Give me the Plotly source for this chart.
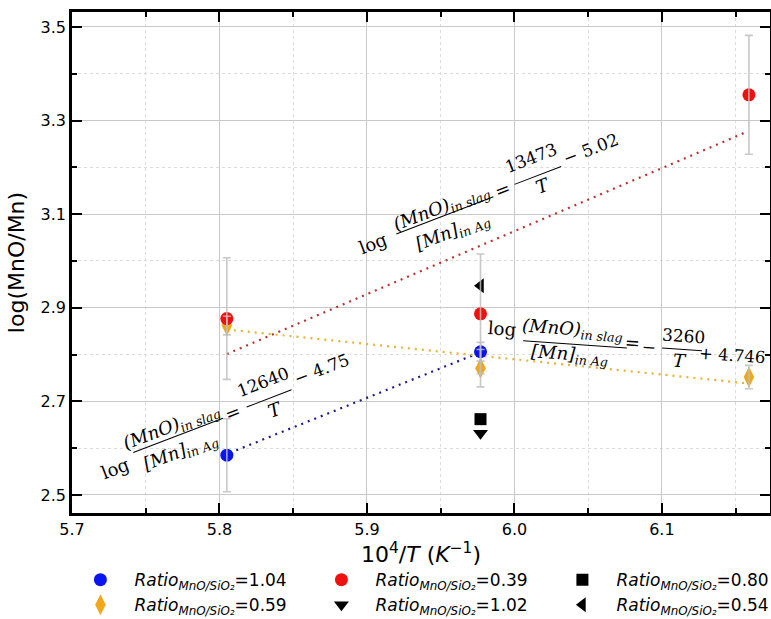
import numpy as np
import plotly.graph_objects as go

# ---------------- data ----------------
x_blue = [5.805, 5.977]
y_blue = [2.585, 2.806]
e_blue = [0.078, 0.02]

x_red = [5.805, 5.977, 6.159]
y_red = [2.877, 2.887, 3.355]
e_red = [0.13, 0.128, 0.127]

x_orange = [5.805, 5.977, 6.159]
y_orange = [2.862, 2.771, 2.752]
e_orange = [0.02, 0.04, 0.025]

x_square = [5.977]
y_square = [2.662]
x_down = [5.977]
y_down = [2.632]
x_left = [5.977]
y_left = [2.947]

labels = ["1.04", "0.39", "0.80", "0.59", "1.02", "0.54"]

# fitted lines: log = slope * (10^4/T) + intercept
fit_slopes = [1.2640, 1.3473, -0.3260]
fit_intercepts = [-4.75, -5.02, 4.746]
fit_x_start = [5.807, 5.805, 5.805]
fit_x_end = [5.977, 6.158, 6.158]
fit_colors = ["#1c1c8a", "#b8322e", "#eeb030"]

x_ticks = [5.7, 5.8, 5.9, 6.0, 6.1]
y_ticks = [2.5, 2.7, 2.9, 3.1, 3.3, 3.5]

# ---------------- figure ----------------
fig = go.Figure()

for s, b, x0, x1, c in zip(fit_slopes, fit_intercepts, fit_x_start, fit_x_end, fit_colors):
    xs = np.array([x0, x1])
    fig.add_trace(go.Scatter(x=xs, y=s * xs + b, mode="lines",
                             line=dict(color=c, width=2.2, dash="2px,5px"),
                             showlegend=False, hoverinfo="skip"))

def lab(v):
    return "<i>Ratio<sub>MnO/SiO₂</sub></i>=" + v

ERR = "rgba(190,190,190,0.85)"
series = [
    (x_orange, y_orange, e_orange, "#f2a71b", "diamond-tall", 15, labels[3], 4),
    (x_blue, y_blue, e_blue, "#0a14f0", "circle", 13, labels[0], 1),
    (x_red, y_red, e_red, "#f01010", "circle", 13, labels[1], 2),
    (x_square, y_square, None, "black", "square", 12, labels[2], 3),
    (x_down, y_down, None, "black", "triangle-down", 13, labels[4], 5),
    (x_left, y_left, None, "black", "triangle-left", 13, labels[5], 6),
]
for xs, ys, es, col, sym, sz, lb, rank in series:
    fig.add_trace(go.Scatter(x=xs, y=ys, mode="markers",
                             marker=dict(color=col, symbol=sym, size=sz, line=dict(width=0)),
                             name=lab(lb), legendrank=rank))
# error bars drawn on top (light grey)
for xs, ys, es, col, sym, sz, lb, rank in series:
    if es is None:
        continue
    fig.add_trace(go.Scatter(x=xs, y=ys, mode="markers", marker=dict(opacity=0, size=1),
                             error_y=dict(type="data", array=es, visible=True,
                                          color=ERR, thickness=1.6, width=4),
                             showlegend=False, hoverinfo="skip"))

# ---------------- equations (rotated text pieces) ----------------
EQF = "DejaVu Serif"
ann = []

def add_eq(x0, y0, angle, pieces):
    for p in pieces:
        txt, dx, dy, size = p[0], p[1], p[2], p[3]
        common = dict(x=x0, y=y0, xref="x", yref="y", showarrow=False,
                      xanchor="center", yanchor="middle", textangle=angle,
                      xshift=dx, yshift=-dy)
        if txt == "BAR":
            ann.append(dict(text=" ", font=dict(size=1), width=size, height=1.3,
                            bgcolor="black", borderpad=0, borderwidth=0, **common))
        else:
            ann.append(dict(text=txt, font=dict(family=EQF, size=size, color="black"),
                            **common))

num = "<i>(MnO)<sub>in slag</sub></i>"
den = "<i>[Mn]<sub>in Ag</sub></i>"

# blue equation
add_eq(5.809, 2.677, -21, [
    ("log", -118, 56, 18), (num, -61, 15, 18), ("BAR", -55, 23, 96),
    (den, -52, 40, 18), ("=", 0, 0, 18), ("12640", 30, -30, 17),
    ("BAR", 36, -14, 48), ("<i>T</i>", 42, -3, 18), ("− 4.75", 89, -43, 17),
])
# red equation
add_eq(5.992, 3.152, -21, [
    ("log", -130, 54, 18), (num, -61, 18, 18), ("BAR", -58, 26, 104),
    (den, -50, 42, 18), ("=", 0, 0, 18), ("13473", 28, -32, 17),
    ("BAR", 35, -14, 50), ("<i>T</i>", 40, -4, 18), ("− 5.02", 88, -41, 17),
])
# orange equation
add_eq(6.080, 2.825, 4, [
    ("log", -130, -14, 18), (num, -60, -13, 18), ("BAR", -57, 2, 104),
    (den, -63, 12, 18), ("=", 0, 0, 18), ("−", 17, 4, 17),
    ("3260", 51, -7, 17), ("BAR", 50, 7, 40), ("<i>T</i>", 48, 18, 18),
    ("+ 4.746", 100, 13, 16.5),
])

fig.update_layout(annotations=ann)

# ---------------- axes & layout ----------------
FONT = "DejaVu Sans"
common_axis = dict(showline=True, linewidth=2.5, linecolor="black", mirror="ticks",
                   ticks="inside", ticklen=10, tickwidth=1.8, tickcolor="black",
                   showgrid=True, gridcolor="#c9c9c9", gridwidth=1.2, zeroline=False,
                   tickfont=dict(family=FONT, size=16, color="black"),
                   tickformat=".1f")

fig.update_xaxes(range=[5.7, 6.1733], tickvals=x_ticks,
                 minor=dict(dtick=0.05, tick0=5.7, ticks="inside", ticklen=5,
                            tickcolor="black", showgrid=True, gridcolor="#dcdcdc",
                            griddash="3px,3px", gridwidth=1),
                 title=dict(text="10<sup>4</sup>/<i>T</i> (<i>K</i><sup>−1</sup>)",
                            font=dict(family=FONT, size=22, color="black"), standoff=6),
                 **common_axis)
fig.update_yaxes(range=[2.4615, 3.532], tickvals=y_ticks,
                 minor=dict(dtick=0.1, tick0=2.5, ticks="inside", ticklen=5,
                            tickcolor="black", showgrid=True, gridcolor="#dcdcdc",
                            griddash="3px,3px", gridwidth=1),
                 title=dict(text="log(MnO/Mn)",
                            font=dict(family=FONT, size=22, color="black"), standoff=10),
                 **common_axis)

fig.update_layout(
    width=771, height=619,
    margin=dict(l=72, r=1, t=12, b=106, autoexpand=False),
    paper_bgcolor="white", plot_bgcolor="white",
    showlegend=True,
    legend=dict(orientation="h", x=-0.008, xanchor="left", y=-0.098, yanchor="top",
                font=dict(family=FONT, size=17, color="black"),
                entrywidth=168, entrywidthmode="pixels", itemwidth=58,
                traceorder="normal", bgcolor="rgba(0,0,0,0)"),
)

fig.write_html("out.html")
